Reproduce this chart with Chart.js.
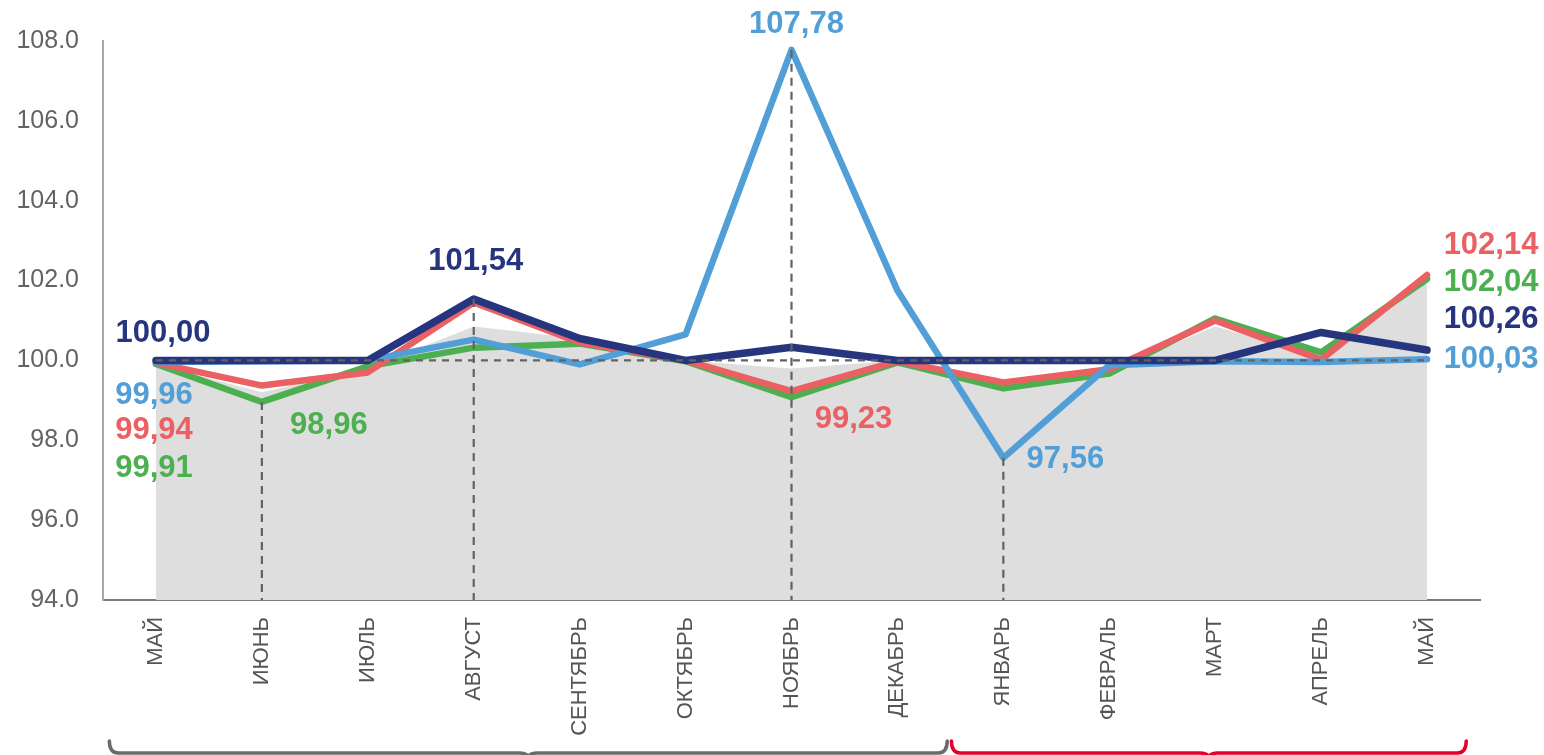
<!DOCTYPE html>
<html>
<head>
<meta charset="utf-8">
<script src="https://cdn.jsdelivr.net/npm/chart.js@4/dist/chart.umd.min.js"></script>
<style>
  body { margin: 0; background: #fff; }
  #wrap { width: 1544px; height: 755px; }
</style>
</head>
<body>
<div id="wrap"><canvas id="canvas"></canvas></div>
<script>
var months = ["МАЙ", "ИЮНЬ", "ИЮЛЬ", "АВГУСТ", "СЕНТЯБРЬ", "ОКТЯБРЬ", "НОЯБРЬ", "ДЕКАБРЬ", "ЯНВАРЬ", "ФЕВРАЛЬ", "МАРТ", "АПРЕЛЬ", "МАЙ"];
var navyValues  = [100.00, 100.00, 100.00, 101.54, 100.55, 100.00, 100.33, 100.00, 100.00, 100.00, 100.00, 100.70, 100.26];
var blueValues  = [99.96, 99.98, 100.00, 100.52, 99.90, 100.65, 107.78, 101.75, 97.56, 99.88, 99.98, 99.96, 100.03];
var redValues   = [99.94, 99.37, 99.70, 101.45, 100.45, 100.00, 99.23, 99.98, 99.45, 99.78, 101.00, 100.02, 102.14];
var greenValues = [99.91, 98.96, 99.85, 100.32, 100.42, 99.98, 99.08, 99.95, 99.30, 99.67, 101.05, 100.20, 102.04];
var grayValues  = [99.90, 99.20, 99.80, 100.85, 100.55, 100.00, 99.80, 100.00, 99.40, 99.75, 100.85, 100.10, 101.95];
var yTicks = [94, 96, 98, 100, 102, 104, 106, 108];
var baseline = 100;

var colors = {
  navy: '#27357f',
  blue: '#529fd7',
  red: '#ea6063',
  green: '#4caf50',
  gray: '#dedede'
};

var seriesByName = { navy: navyValues, blue: blueValues, red: redValues, green: greenValues };

// dashed drops from the extreme points to the axis
var dropLines = [
  { series: 'green', index: 1 },
  { series: 'navy', index: 3 },
  { series: 'blue', index: 6 },
  { series: 'blue', index: 8 }
];

// value labels: which point, and offset of the text centre from it
var valueLabels = [
  { series: 'navy', index: 0, dx: 7, dy: -27 },
  { series: 'navy', index: 3, dx: 2, dy: -37 },
  { series: 'blue', index: 6, dx: 5, dy: -25 },
  { series: 'blue', index: 0, dx: -2, dy: 33 },
  { series: 'red', index: 0, dx: -2, dy: 68 },
  { series: 'green', index: 0, dx: -2, dy: 104 },
  { series: 'green', index: 1, dx: 67, dy: 23 },
  { series: 'red', index: 6, dx: 62, dy: 28 },
  { series: 'blue', index: 8, dx: 62, dy: 2 },
  { series: 'red', index: 12, dx: 64, dy: -30 },
  { series: 'green', index: 12, dx: 64, dy: 3 },
  { series: 'navy', index: 12, dx: 64, dy: -31 },
  { series: 'blue', index: 12, dx: 64, dy: 0 }
];

// braces under the month labels (ranges in category units)
var braces = [
  { from: -0.44, to: 7.47, color: '#6b6b6b' },
  { from: 7.51, to: 12.37, color: '#e4002b' }
];

function fmt(v) {
  return v.toFixed(2).replace('.', ',');
}

var overlay = {
  id: 'overlay',
  afterDatasetsDraw: function(chart) {
    var ctx = chart.ctx, x = chart.scales.x, y = chart.scales.y;
    ctx.save();
    ctx.strokeStyle = '#626262';
    ctx.lineWidth = 2.2;
    ctx.setLineDash([7, 6]);
    ctx.beginPath();
    ctx.moveTo(x.getPixelForValue(0), y.getPixelForValue(baseline));
    ctx.lineTo(x.getPixelForValue(months.length - 1), y.getPixelForValue(baseline));
    ctx.stroke();

    ctx.setLineDash([8, 6]);
    dropLines.forEach(function(d) {
      var px = x.getPixelForValue(d.index);
      ctx.beginPath();
      ctx.moveTo(px, y.getPixelForValue(seriesByName[d.series][d.index]));
      ctx.lineTo(px, y.bottom);
      ctx.stroke();
    });
    ctx.setLineDash([]);

    ctx.font = 'bold 31px "Liberation Sans", Arial, sans-serif';
    ctx.textAlign = 'center';
    ctx.textBaseline = 'middle';
    valueLabels.forEach(function(l) {
      var v = seriesByName[l.series][l.index];
      ctx.fillStyle = colors[l.series];
      ctx.fillText(fmt(v), x.getPixelForValue(l.index) + l.dx, y.getPixelForValue(v) + l.dy);
    });
    ctx.restore();
  },
  afterDraw: function(chart) {
    var ctx = chart.ctx, x = chart.scales.x;
    var yLine = 753, yTop = 741, r = 9;
    ctx.save();
    ctx.lineWidth = 3.5;
    ctx.lineCap = 'round';
    braces.forEach(function(b) {
      var left = x.getPixelForValue(b.from), right = x.getPixelForValue(b.to);
      var mid = (left + right) / 2;
      ctx.strokeStyle = b.color;
      ctx.beginPath();
      ctx.moveTo(left, yTop);
      ctx.quadraticCurveTo(left, yLine, left + r, yLine);
      ctx.lineTo(mid - r, yLine);
      ctx.quadraticCurveTo(mid, yLine, mid, yLine + 6);
      ctx.quadraticCurveTo(mid, yLine, mid + r, yLine);
      ctx.lineTo(right - r, yLine);
      ctx.quadraticCurveTo(right, yLine, right, yTop);
      ctx.stroke();
    });
    ctx.restore();
  }
};

Chart.defaults.font.family = '"Liberation Sans", Arial, sans-serif';

var lineStyle = function(label, data, color, width) {
  return {
    label: label,
    data: data,
    borderColor: color,
    backgroundColor: color,
    borderWidth: width,
    pointRadius: 0,
    tension: 0,
    fill: false,
    borderCapStyle: 'round',
    borderJoinStyle: 'round'
  };
};

var chart = new Chart(document.getElementById('canvas').getContext('2d'), {
  type: 'line',
  data: {
    labels: months,
    datasets: [
      lineStyle('navy', navyValues, colors.navy, 7.5),
      lineStyle('blue', blueValues, colors.blue, 6.5),
      lineStyle('red', redValues, colors.red, 6.5),
      lineStyle('green', greenValues, colors.green, 6.5),
      {
        label: 'gray',
        data: grayValues,
        borderWidth: 0,
        borderColor: 'rgba(0,0,0,0)',
        backgroundColor: colors.gray,
        pointRadius: 0,
        tension: 0,
        fill: 'start'
      }
    ]
  },
  plugins: [overlay],
  options: {
    responsive: true,
    maintainAspectRatio: false,
    animation: false,
    layout: { padding: { top: 41, right: 64, bottom: 0, left: 0 } },
    plugins: {
      legend: { display: false },
      tooltip: { enabled: false }
    },
    scales: {
      x: {
        offset: true,
        grid: { display: false, drawTicks: false },
        border: { display: true, color: '#7a7a7a', width: 2 },
        ticks: {
          autoSkip: false,
          minRotation: 90,
          maxRotation: 90,
          padding: 17,
          color: '#555555',
          font: { size: 22 }
        },
        afterFit: function(scale) { scale.height = 155; }
      },
      y: {
        min: 94,
        max: 108,
        afterBuildTicks: function(scale) {
          scale.ticks = yTicks.map(function(v) { return { value: v }; });
        },
        grid: { display: false, drawTicks: false },
        border: { display: true, color: '#a8a8a8', width: 2 },
        ticks: {
          padding: 24,
          color: '#636363',
          font: { size: 25 },
          callback: function(v) { return Number(v).toFixed(1); }
        },
        afterFit: function(scale) { scale.width = 103; }
      }
    }
  }
});
</script>
</body>
</html>
